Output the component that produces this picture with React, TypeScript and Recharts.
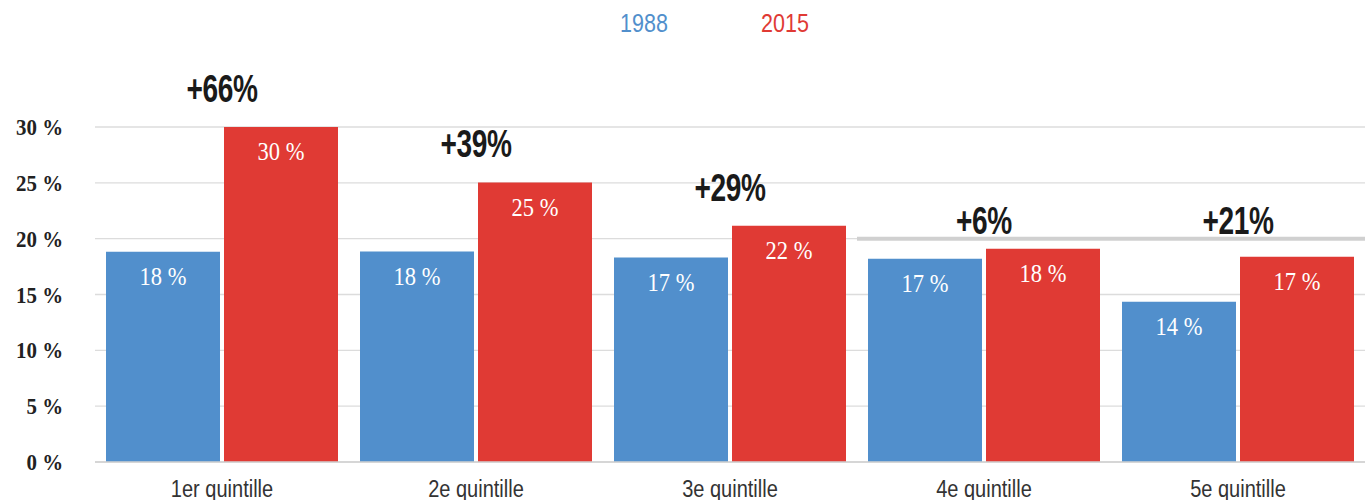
import { Bar, BarChart, CartesianGrid, LabelList, ReferenceArea, XAxis, YAxis } from "recharts";

const categories = ["1er quintille", "2e quintille", "3e quintille", "4e quintille", "5e quintille"];
const values1988 = [18.83, 18.85, 18.32, 18.2, 14.35];
const values2015 = [30.0, 25.03, 21.15, 19.1, 18.38];
const labels1988 = ["18 %", "18 %", "17 %", "17 %", "14 %"];
const labels2015 = ["30 %", "25 %", "22 %", "18 %", "17 %"];
const changes = ["+66%", "+39%", "+29%", "+6%", "+21%"];
const yTicks = [0, 5, 10, 15, 20, 25, 30];

const BLUE = "#518fcc";
const RED = "#e03a34";
const SERIF = "'Liberation Serif', 'Times New Roman', serif";
const SANS = "'Liberation Sans', Arial, sans-serif";

const data = categories.map((name, i) => ({
  name,
  v1988: values1988[i],
  v2015: values2015[i]
}));

// the source image is a bit stretched vertically, so text gets squeezed horizontally
function Squeezed({ x, y, sx, children, ...rest }: any) {
  return (
    <text transform={`translate(${x} ${y}) scale(${sx} 1)`} {...rest}>
      {children}
    </text>
  );
}

function valueLabel(labels: string[]) {
  return (props: any) => {
    const { x, y, width, index } = props;
    return (
      <Squeezed
        x={x + width / 2}
        y={y + 25}
        sx={0.9}
        textAnchor="middle"
        dominantBaseline="central"
        fill="#fff"
        fontFamily={SERIF}
        fontSize={25}
      >
        {labels[index]}
      </Squeezed>
    );
  };
}

function ChangeLabel(props: any) {
  const { x, y, height, value, index } = props;
  // where the 20 % line sits, from the bar's own scale
  const y20 = y + height - (20 * height) / value;
  const bottom = y < y20 ? y - 25 : y20 - 5;
  return (
    <Squeezed
      x={x - 2}
      y={bottom}
      sx={0.72}
      textAnchor="middle"
      fill="#1a1a1a"
      fontFamily={SANS}
      fontWeight="bold"
      fontSize={39}
      letterSpacing={-0.5}
    >
      {changes[index]}
    </Squeezed>
  );
}

function YTick({ y, payload }: any) {
  return (
    <Squeezed
      x={63}
      y={y}
      sx={0.87}
      textAnchor="end"
      dominantBaseline="central"
      fill="#222"
      fontFamily={SERIF}
      fontWeight="bold"
      fontSize={24}
    >
      {payload.value} %
    </Squeezed>
  );
}

function XTick({ x, y, payload }: any) {
  return (
    <Squeezed x={x} y={y + 27} sx={0.87} textAnchor="middle" fill="#333" fontFamily={SANS} fontSize={23}>
      {payload.value}
    </Squeezed>
  );
}

export default function App() {
  return (
    <div style={{ position: "absolute", left: 0, top: 0, width: 1365, height: 500, background: "#fff" }}>
      <div
        style={{
          position: "absolute",
          top: 8,
          left: 0,
          width: 1365,
          fontFamily: SANS,
          fontSize: 25,
          lineHeight: "30px"
        }}
      >
        <span style={{ position: "absolute", left: 644, transform: "translateX(-50%) scaleX(0.86)", color: BLUE }}>1988</span>
        <span style={{ position: "absolute", left: 785, transform: "translateX(-50%) scaleX(0.86)", color: RED }}>2015</span>
      </div>
      <BarChart
        width={1365}
        height={500}
        data={data}
        margin={{ top: 127, right: 0, bottom: 0, left: 0 }}
        barGap={4}
        barSize={114}
      >
        <CartesianGrid vertical={false} stroke="#dcdcdc" strokeWidth={1.3} />
        <ReferenceArea x1="4e quintille" y1={19.82} y2={20.18} fill="#d0d0d0" fillOpacity={1} stroke="none" ifOverflow="visible" />
        <XAxis
          dataKey="name"
          height={38}
          tickLine={false}
          axisLine={{ stroke: "#d0d0d0", strokeWidth: 1.5 }}
          tick={<XTick />}
          interval={0}
        />
        <YAxis
          width={95}
          domain={[0, 30]}
          ticks={yTicks}
          axisLine={false}
          tickLine={false}
          tick={<YTick />}
        />
        <Bar dataKey="v1988" fill={BLUE} isAnimationActive={false}>
          <LabelList dataKey="v1988" content={valueLabel(labels1988)} />
        </Bar>
        <Bar dataKey="v2015" fill={RED} isAnimationActive={false}>
          <LabelList dataKey="v2015" content={valueLabel(labels2015)} />
          <LabelList dataKey="v2015" content={ChangeLabel} />
        </Bar>
      </BarChart>
    </div>
  );
}
